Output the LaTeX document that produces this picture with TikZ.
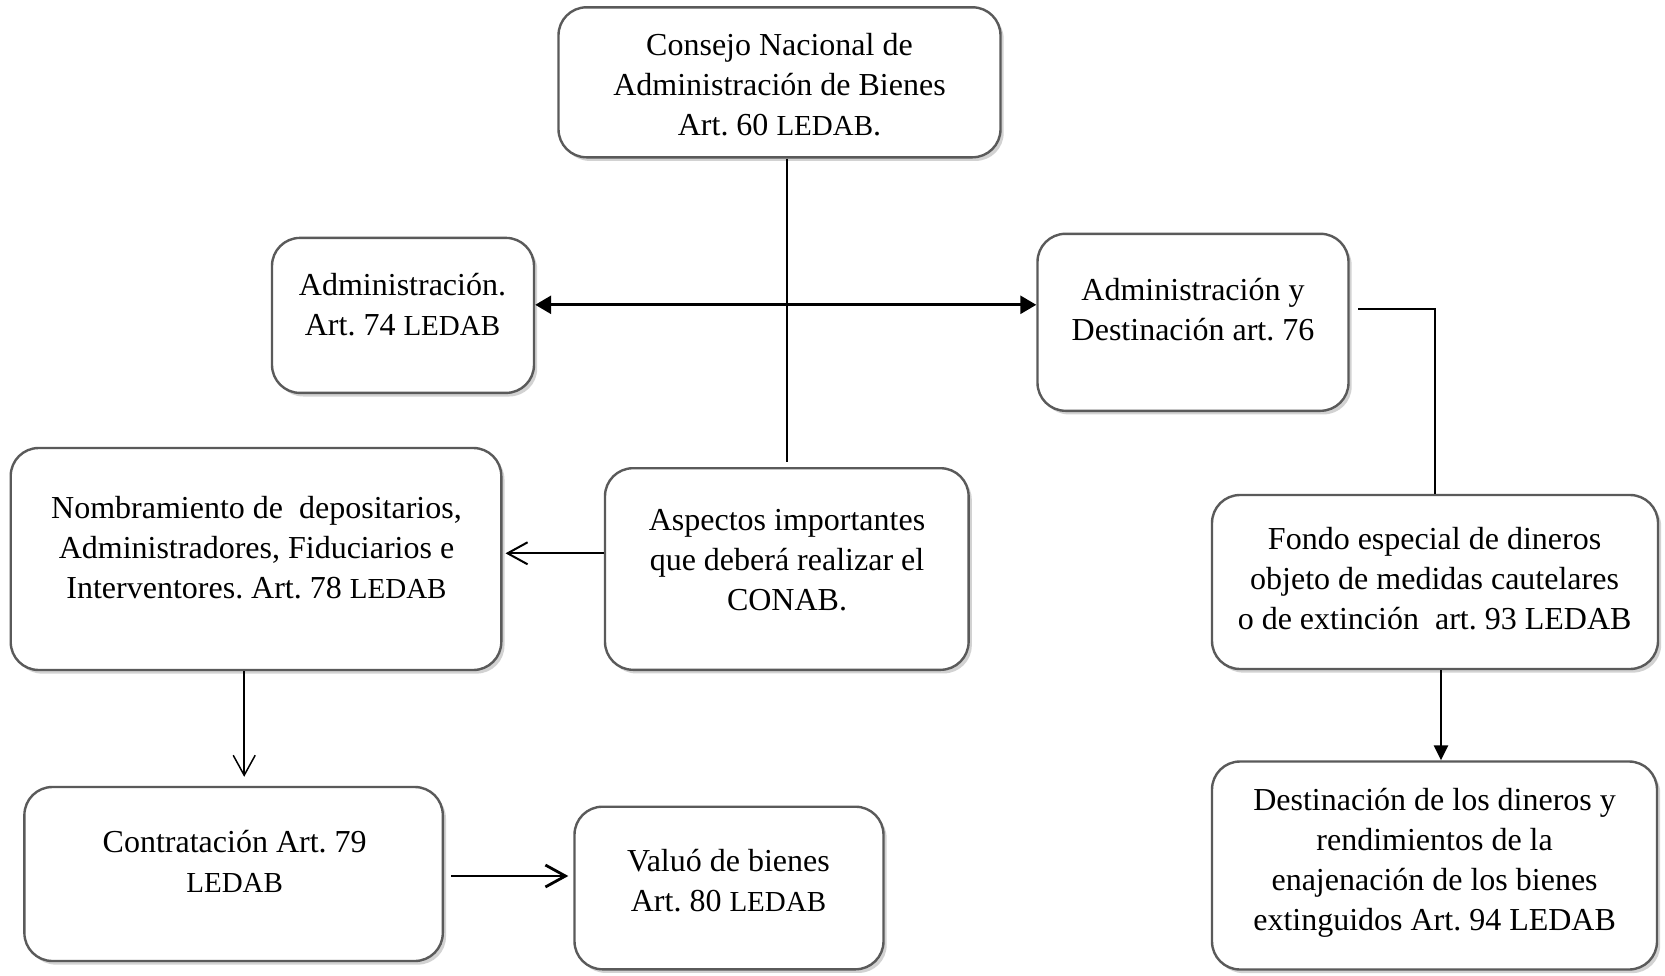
\documentclass[tikz,border=0pt]{standalone}
\usepackage{fontspec}
\setmainfont{Liberation Serif}
\usetikzlibrary{arrows.meta,shadows,calc}
\definecolor{boxgray}{RGB}{90,90,90}
\newcommand\ledab{{\fontsize{14.5}{20}\selectfont LEDAB}}
\frenchspacing

\begin{document}
\begin{tikzpicture}[x=0.5pt,y=-0.5pt,
  box/.style={draw=boxgray, line width=1.2pt, rounded corners=14pt, fill=white,
    inner sep=0pt,
    drop shadow={shadow xshift=1.6pt, shadow yshift=-1.8pt, fill=black!35}},
  txt/.style={align=center, font=\fontsize{16}{20}\selectfont, inner sep=0pt},
  thinline/.style={line width=0.75pt},
  midline/.style={line width=1pt},
  thickline/.style={line width=1.4pt},
  openhead/.style={-{Straight Barb[length=10pt,width=11pt]}},
  bothfilled/.style={{Triangle[length=8pt,width=9pt]}-{Triangle[length=8pt,width=9pt]}},
  filledhead/.style={-{Triangle[length=7.5pt,width=7pt]}}]

\fill[white] (0,0) rectangle (1665,975);
\useasboundingbox (0,0) rectangle (1665,975);

% boxes
\node[box, minimum width=221pt,   minimum height=75pt]   (cons)  at (779.5,82.3) {};
\node[box, minimum width=131pt,   minimum height=77.5pt] (a74)   at (403,315.4) {};
\node[box, minimum width=155.5pt, minimum height=88.5pt] (ad)    at (1193,322.3) {};
\node[box, minimum width=245.3pt, minimum height=111pt]  (nomb)  at (256,559) {};
\node[box, minimum width=181.8pt, minimum height=100.8pt](asp)   at (786.8,569) {};
\node[box, minimum width=223pt,   minimum height=87pt]   (fondo) at (1435,582) {};
\node[box, minimum width=222.5pt, minimum height=104pt]  (dest)  at (1434.5,865.5) {};
\node[box, minimum width=209.2pt, minimum height=87pt]   (contr) at (233.6,874) {};
\node[box, minimum width=154.5pt, minimum height=81.3pt] (val)   at (729,888) {};

% texts
\node[txt] (consT)  at (779.5,85)    {Consejo Nacional de\\Administración de Bienes\\Art. 60 \ledab.};
\node[txt] (a74T)   at (402.5,304.8) {Administración.\\Art. 74 \ledab};
\node[txt] (adT)    at (1193,309.5)  {Administración y\\Destinación art. 76};
\node[txt] (nombT)  at (256.5,547.4) {Nombramiento de\ \ depositarios,\\Administradores, Fiduciarios e\\Interventores. Art. 78 \ledab};
\node[txt] (aspT)   at (787,560)     {Aspectos importantes\\que deberá realizar el\\CONAB.};
\node[txt] (fondoT) at (1434.6,578.7){Fondo especial de dineros\\objeto de medidas cautelares\\o de extinción\ \ art. 93 LEDAB};
\node[txt] (destT)  at (1434.6,863.3){Destinación de los dineros y\\rendimientos de la\\enajenación de los bienes\\extinguidos Art. 94 LEDAB};
\node[txt] (contrT) at (234.7,861.2) {Contratación Art. 79\\\ledab};
\node[txt] (valT)   at (728.5,880.3) {Valuó de bienes\\Art. 80 \ledab};

% connectors
\coordinate (hub)  at (787.9,304.8);
\coordinate (lvl1) at (0,309);
\coordinate (lvl2) at (0,553.3);
\coordinate (lvl4) at (0,876);
\coordinate (c1)   at (244.2,0);
\coordinate (c2)   at (1441,0);

\draw[thinline] (asp.north |- cons.south) -- ($(asp.north)+(0,-5)$);
\draw[thickline, bothfilled] (a74.east |- hub) -- (ad.west |- hub);
\draw[midline, openhead] (asp.west |- lvl2) -- ($(nomb.east |- lvl2)+(3,0)$);
\draw[thinline, openhead] (nomb.south -| c1) -- ($(contr.north -| c1)+(0,-9)$);
\draw[thickline, openhead] ($(contr.east |- lvl4)+(7,0)$) -- ($(val.west |- lvl4)+(-5,0)$);
\draw[thinline] ($(ad.east |- lvl1)+(8.5,0)$) -| (fondo.north);
\draw[thickline, filledhead] (fondo.south -| c2) -- (dest.north -| c2);

\end{tikzpicture}
\end{document}
